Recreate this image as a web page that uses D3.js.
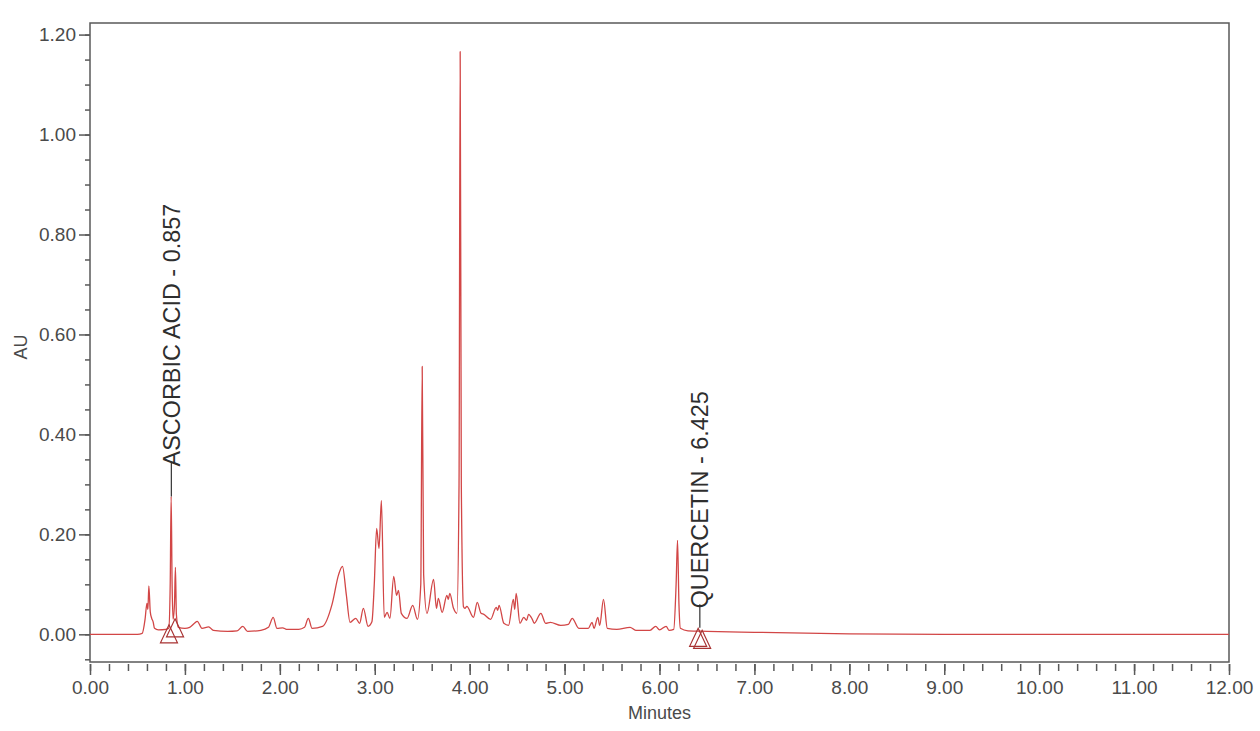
<!DOCTYPE html>
<html>
<head>
<meta charset="utf-8">
<script src="https://cdn.jsdelivr.net/npm/d3@7"></script>
<style>
  html, body { margin: 0; padding: 0; background: #fff; }
  svg { display: block; font-family: "Liberation Sans", Arial, sans-serif; }
</style>
</head>
<body>
<svg id="chart" width="1260" height="731"></svg>
<script>
// ---- data ----
const timeMin = [
  0.00, 0.50, 0.55, 0.58, 0.60, 0.61, 0.62, 0.635, 0.65, 0.665, 0.68, 0.72, 0.80, 0.83,
  0.845, 0.855, 0.865, 0.875, 0.89, 0.90, 0.91, 0.93, 1.00, 1.05, 1.10, 1.13, 1.18, 1.25,
  1.30, 1.45, 1.55, 1.61, 1.66, 1.80, 1.88, 1.93, 1.97, 2.03, 2.07, 2.20, 2.26, 2.30, 2.34,
  2.45, 2.55, 2.62, 2.66, 2.70, 2.74, 2.80, 2.84, 2.88, 2.93, 2.97, 2.995, 3.02, 3.045, 3.07,
  3.10, 3.13, 3.16, 3.20, 3.23, 3.25, 3.28, 3.34, 3.40, 3.45, 3.485, 3.50, 3.515, 3.55,
  3.62, 3.65, 3.67, 3.71, 3.76, 3.775, 3.79, 3.83, 3.865, 3.888, 3.90, 3.912, 3.935, 3.95,
  3.97, 4.04, 4.08, 4.12, 4.15, 4.22, 4.28, 4.295, 4.31, 4.36, 4.41, 4.46, 4.475, 4.49,
  4.53, 4.57, 4.60, 4.62, 4.66, 4.68, 4.75, 4.80, 4.85, 4.96, 5.04, 5.08, 5.15, 5.25, 5.29,
  5.31, 5.35, 5.37, 5.41, 5.45, 5.55, 5.69, 5.75, 5.90, 5.96, 6.00, 6.07, 6.10, 6.15, 6.175,
  6.19, 6.205, 6.22, 6.30, 6.50, 7.00, 8.00, 9.00, 12.00
];
const absorbance = [
  0.000, 0.000, 0.002, 0.030, 0.062, 0.050, 0.097, 0.045, 0.032, 0.025, 0.012, 0.009, 0.010, 0.012,
  0.100, 0.276, 0.100, 0.030, 0.060, 0.134, 0.040, 0.014, 0.012, 0.014, 0.022, 0.026, 0.012, 0.015,
  0.008, 0.006, 0.007, 0.016, 0.006, 0.008, 0.014, 0.034, 0.012, 0.013, 0.010, 0.010, 0.014, 0.032, 0.012,
  0.016, 0.060, 0.120, 0.136, 0.080, 0.024, 0.032, 0.022, 0.052, 0.016, 0.025, 0.100, 0.212, 0.172, 0.268,
  0.034, 0.044, 0.032, 0.116, 0.078, 0.088, 0.042, 0.032, 0.058, 0.030, 0.100, 0.536, 0.120, 0.042,
  0.110, 0.052, 0.072, 0.044, 0.078, 0.070, 0.082, 0.052, 0.042, 0.300, 1.166, 0.300, 0.055, 0.052,
  0.056, 0.034, 0.064, 0.042, 0.040, 0.030, 0.054, 0.048, 0.058, 0.022, 0.018, 0.070, 0.050, 0.082,
  0.022, 0.034, 0.028, 0.040, 0.030, 0.022, 0.042, 0.022, 0.024, 0.018, 0.020, 0.032, 0.012, 0.012, 0.024,
  0.012, 0.034, 0.018, 0.070, 0.012, 0.010, 0.014, 0.008, 0.008, 0.016, 0.009, 0.016, 0.008, 0.010, 0.100,
  0.188, 0.060, 0.012, 0.007, 0.006, 0.004, 0.001, 0.000, 0.000
];

// peak labels (retention time, apex AU)
const peakNames = ["ASCORBIC ACID", "QUERCETIN"];
const peakTimes = [0.857, 6.425];
const peakApex = [0.276, 0.013];
const labelBase = [0.336, 0.052];

// integration markers (time, AU of centre)
const markerTimes = [0.832, 0.896, 6.407, 6.449];
const markerValues = [0.001, 0.013, -0.006, -0.010];

const xMajorTicks = [0, 1, 2, 3, 4, 5, 6, 7, 8, 9, 10, 11, 12];
const yMajorTicks = [0.0, 0.2, 0.4, 0.6, 0.8, 1.0, 1.2];
const xMinorTicks = d3.range(0, 60.5, 1).map(d => d / 5);
const yMinorTicks = d3.range(-1, 24.5, 1).map(d => d / 20);

// ---- layout ----
const svg = d3.select("#chart");
const pLeft = 90, pRight = 1229, pTop = 23, pBottom = 662;
const x = d3.scaleLinear().domain([0, 12]).range([pLeft, pRight]);
const y = d3.scaleLinear().domain([-0.0554, 1.2232]).range([pBottom, pTop]);

const axisColor = "#595959";
const textColor = "#4a4a4a";

// frame
svg.append("rect")
  .attr("x", pLeft).attr("y", pTop)
  .attr("width", pRight - pLeft).attr("height", pBottom - pTop)
  .attr("fill", "none").attr("stroke", axisColor).attr("stroke-width", 1.5);

// y axis
const yMinor = svg.append("g").attr("transform", `translate(${pLeft},0)`)
  .call(d3.axisLeft(y).tickValues(yMinorTicks).tickSize(5).tickFormat(""));
const yMajor = svg.append("g").attr("transform", `translate(${pLeft},0)`)
  .call(d3.axisLeft(y).tickValues(yMajorTicks).tickSize(11).tickPadding(3).tickFormat(d3.format(".2f")));

// x axis
const xMinor = svg.append("g").attr("transform", `translate(0,${pBottom + 2})`)
  .call(d3.axisBottom(x).tickValues(xMinorTicks).tickSize(7).tickFormat(""));
const xMajor = svg.append("g").attr("transform", `translate(0,${pBottom + 2})`)
  .call(d3.axisBottom(x).tickValues(xMajorTicks).tickSize(11).tickPadding(6).tickFormat(d3.format(".2f")));

[yMinor, yMajor, xMinor, xMajor].forEach(g => {
  g.select(".domain").remove();
  g.selectAll(".tick line").attr("stroke", axisColor).attr("stroke-width", 1.5);
  g.selectAll(".tick text").attr("fill", textColor).style("font-size", "19px")
    .style("font-family", '"Liberation Sans", Arial, sans-serif');
});

// axis titles
svg.append("text")
  .attr("transform", `translate(21,347) rotate(-90)`)
  .attr("text-anchor", "middle").attr("dy", "0.35em")
  .attr("fill", textColor).style("font-size", "18px").text("AU");
svg.append("text")
  .attr("x", (pLeft + pRight) / 2).attr("y", 719)
  .attr("text-anchor", "middle")
  .attr("fill", textColor).style("font-size", "18px").text("Minutes");

// trace
const pts = timeMin.map((t, i) => [t, absorbance[i]]);
const line = d3.line().x(d => x(d[0])).y(d => y(d[1])).curve(d3.curveMonotoneX);
svg.append("path")
  .datum(pts)
  .attr("d", line)
  .attr("fill", "none")
  .attr("stroke", "#d24646")
  .attr("stroke-width", 1.3)
  .attr("stroke-linejoin", "round");

// integration markers
const w = 17, h = 18;
svg.selectAll(".marker")
  .data(markerTimes.map((t, i) => [t, markerValues[i]]))
  .join("path")
  .attr("class", "marker")
  .attr("d", d => {
    const cx = x(d[0]), cy = y(d[1]);
    return `M${cx},${cy - h / 2}L${cx + w / 2},${cy + h / 2}L${cx - w / 2},${cy + h / 2}Z`;
  })
  .attr("fill", "none").attr("stroke", "#a83232").attr("stroke-width", 1.2);

// peak labels
peakNames.forEach((name, i) => {
  const px = x(peakTimes[i]);
  svg.append("line")
    .attr("x1", px).attr("x2", px)
    .attr("y1", y(peakApex[i])).attr("y2", y(labelBase[i]) - 4)
    .attr("stroke", "#333").attr("stroke-width", 1.2);
  svg.append("text")
    .attr("transform", `translate(${px},${y(labelBase[i])}) rotate(-90)`)
    .attr("dy", "0.36em")
    .attr("text-anchor", "start")
    .attr("fill", "#2e2e2e")
    .style("font-size", "23.4px")
    .text(`${name} - ${d3.format(".3f")(peakTimes[i])}`);
});
</script>
</body>
</html>
